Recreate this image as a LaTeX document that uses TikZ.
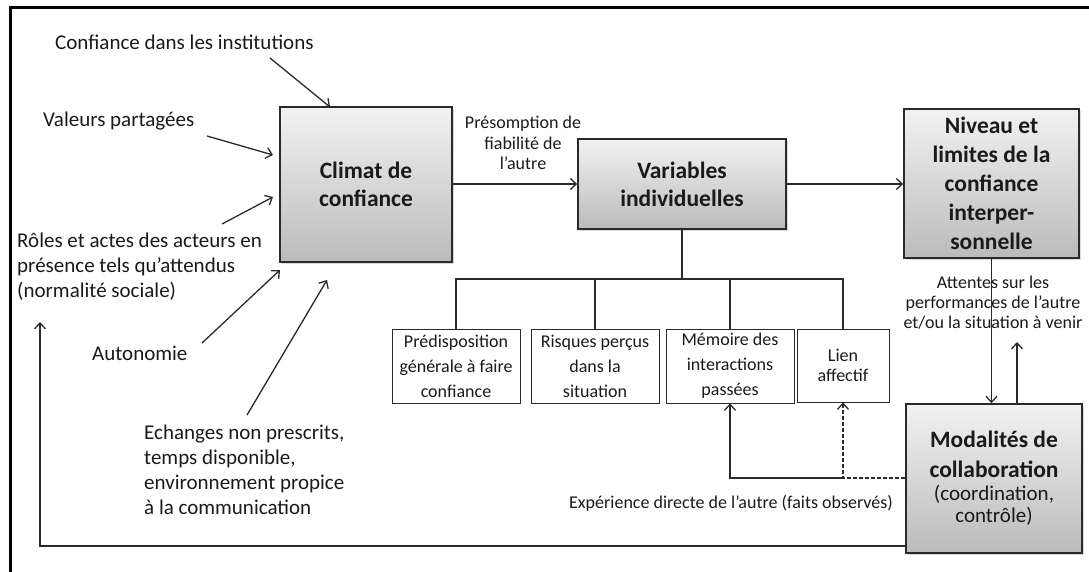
\documentclass[tikz,border=0pt]{standalone}
\usepackage{fontspec}
\setmainfont{Carlito}
\usetikzlibrary{arrows.meta,shadows}
\definecolor{txt}{HTML}{1A1A1A}
\definecolor{ln}{HTML}{2A2A2A}
\definecolor{boxtop}{HTML}{F2F2F2}
\definecolor{boxbot}{HTML}{BBBBBB}
\begin{document}
\begin{tikzpicture}[x=1pt,y=-1pt,
  every node/.style={inner sep=0pt, text=txt},
  bigbox/.style={draw=ln, line width=1.5pt, top color=boxtop, bottom color=boxbot,
    drop shadow={shadow xshift=2pt, shadow yshift=-2pt, opacity=0.3},
    align=center, font=\fontsize{23.5}{28}\selectfont\bfseries},
  smallbox/.style={draw=ln, line width=0.8pt, fill=white, align=center,
    font=\fontsize{18}{25}\selectfont},
  lbl/.style={font=\fontsize{21}{25}\selectfont, align=left},
  note/.style={font=\fontsize{18}{20.5}\selectfont, align=center},
  arr/.style={draw=ln, line width=1.3pt, -{Straight Barb[length=6pt,width=11pt]}},
  conn/.style={draw=ln, line width=1.3pt}]
\useasboundingbox (0,0) rectangle (1089,572);
% frame
\draw[line width=3pt, black, line join=miter] (10,580) -- (10,8) -- (1095,8);

% main boxes
\node[bigbox, minimum width=172pt, minimum height=155pt] (clim) at (366,184.5) {Climat de\\confiance};
\node[bigbox, minimum width=208pt, minimum height=90pt] (var) at (682,184) {Variables\\individuelles};
\node[bigbox, minimum width=175pt, minimum height=149pt, font=\fontsize{23.5}{29}\selectfont\bfseries] (niv) at (991.5,183.5) {Niveau et\\limites de la\\confiance\\interper-\\sonnelle};
\node[bigbox, minimum width=176pt, minimum height=149pt, font=\fontsize{23.5}{30}\selectfont\bfseries] (mod) at (994,478.5) {Modalités de\\collaboration\\[-7pt]{\mdseries\fontsize{21}{22}\selectfont (coordination,}\\[-8pt]{\mdseries\fontsize{21}{22}\selectfont contrôle)}};

% small boxes
\node[smallbox, minimum width=128pt, minimum height=74pt] (pre) at (456,366) {Prédisposition\\générale à faire\\confiance};
\node[smallbox, minimum width=128pt, minimum height=74pt] (ris) at (595,366) {Risques perçus\\dans la\\situation};
\node[smallbox, minimum width=128pt, minimum height=74pt] (mem) at (730,366) {Mémoire des\\interactions\\passées};
\node[smallbox, minimum width=92pt, minimum height=73pt, font=\fontsize{18}{20}\selectfont] (lien) at (843,365.5) {Lien\\affectif};

% labels
\node[note] (pres) at (523,143) {Présomption de\\fiabilité de\\l’autre};
\node[note, font=\fontsize{18}{20}\selectfont] (att) at (993,303) {Attentes sur les\\performances de l’autre\\et/ou la situation à venir};
\node[note] (exp) at (731,503) {Expérience directe de l’autre (faits observés)};

\node[lbl, anchor=west] (inst) at (55,42) {Confiance dans les institutions};
\node[lbl, anchor=west] (valp) at (43,121) {Valeurs partagées};
\node[lbl, anchor=west] (roles) at (17,267) {Rôles et actes des acteurs en\\présence tels qu’attendus\\(normalité sociale)};
\node[lbl, anchor=west] (auto) at (92,353) {Autonomie};
\node[lbl, anchor=west] (ech) at (144,469.5) {Echanges non prescrits,\\temps disponible,\\environnement propice\\à la communication};

% input arrows
\coordinate (i1s) at (270,58);  \coordinate (i1e) at (330,107);
\coordinate (i2s) at (207,136); \coordinate (i2e) at (273,155);
\coordinate (i3s) at (222,224); \coordinate (i3e) at (273,197);
\coordinate (i4s) at (202,343); \coordinate (i4e) at (280,270);
\coordinate (i5s) at (247,415); \coordinate (i5e) at (327,280);
\draw[arr] (i1s) -- (i1e);
\draw[arr] (i2s) -- (i2e);
\draw[arr] (i3s) -- (i3e);
\draw[arr] (i4s) -- (i4e);
\draw[arr] (i5s) -- (i5e);

% main flow
\draw[arr] (clim.east |- var.west) -- (var.west);
\draw[arr] (var.east) -- (niv.west |- var.east);

% tree
\coordinate (tr) at (682,279);
\draw[conn] (var.south) -- (tr);
\draw[conn] (pre.north) |- (tr) -| (lien.north);
\draw[conn] (ris.north) -- (ris.north |- tr);
\draw[conn] (mem.north) -- (mem.north |- tr);

% niveau <-> modalites
\coordinate (up) at (1017,342);
\draw[arr] (niv.south) -- (niv.south |- mod.north);
\draw[arr] (mod.north -| up) -- (up);

% experience
\coordinate (jn) at (843,478);
\draw[arr] (jn) -| (mem.south);
\draw[arr, dash pattern=on 4pt off 2pt] (mod.west |- jn) -- (jn) -- (lien.south);

% feedback
\coordinate (fb) at (40,546);
\coordinate (fbtip) at (40,322);
\draw[arr] (mod.west |- fb) -- (fb) -- (fbtip);
\end{tikzpicture}
\end{document}
